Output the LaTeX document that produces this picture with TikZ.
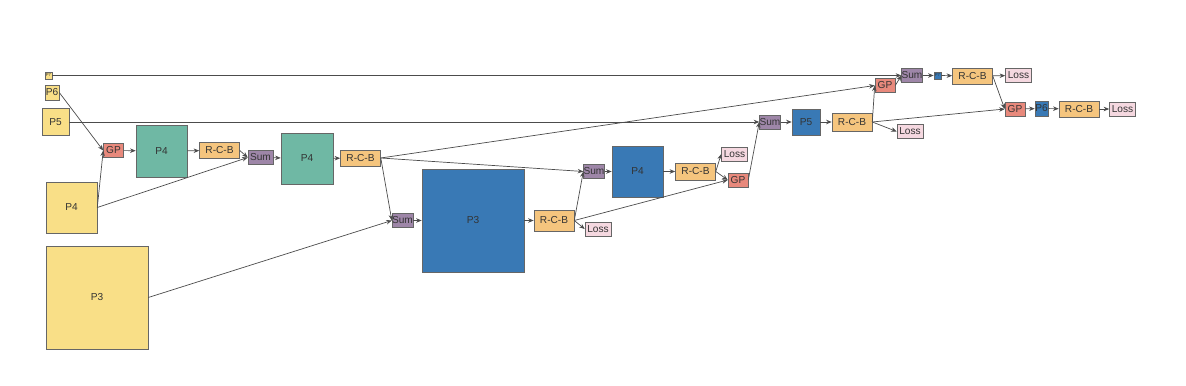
\documentclass[tikz,border=0pt]{standalone}
\usepackage{fontspec}
\setmainfont{Liberation Sans}
\usetikzlibrary{arrows.meta}

\definecolor{featyellow}{HTML}{F9DF87}
\definecolor{featgreen}{HTML}{6FB8A4}
\definecolor{featblue}{HTML}{3979B5}
\definecolor{rcborange}{HTML}{F5C57E}
\definecolor{sumpurple}{HTML}{9E86A8}
\definecolor{gpred}{HTML}{E8897C}
\definecolor{losspink}{HTML}{F5D8E0}

\begin{document}
\begin{tikzpicture}[x=0.025cm,y=-0.025cm,
    box/.style={draw=black!60, line width=0.4pt, inner sep=0pt, text=black!80,
      font=\fontsize{7.2}{8}\selectfont},
    sz/.style 2 args={minimum width=#1*0.025cm, minimum height=#2*0.025cm},
    yel/.style={box, fill=featyellow},
    grn/.style={box, fill=featgreen},
    blu/.style={box, fill=featblue},
    rcb/.style={box, fill=rcborange, sz={40}{16}},
    sumbox/.style={box, fill=sumpurple, sz={20}{14}},
    gpbox/.style={box, fill=gpred, sz={20}{14}},
    lossbox/.style={box, fill=losspink, sz={26}{14}},
    tiny/.style={font=\fontsize{3}{3}\selectfont},
    link/.style={draw=black!70, line width=0.5pt, -{Stealth[length=4pt,width=3.2pt]}}]
    \useasboundingbox (0,0) rectangle (1186,386);

    % input pyramid
    \node[yel, sz={7}{7}, tiny] (p7in) at (48.5,75.5) {P7};
    \node[yel, sz={14}{15}] (p6in) at (52,92.5) {P6};
    \node[yel, sz={27}{27}] (p5in) at (55.5,122) {P5};
    \node[yel, sz={51}{51}] (p4in) at (71.5,207.5) {P4};
    \node[yel, sz={102}{103}] (p3in) at (97,297.5) {P3};

    % top-down path
    \node[gpbox] (gp1) at (113.5,150.5) {GP};
    \node[grn, sz={51}{52}] (p4a) at (161.5,151) {P4};
    \node[rcb] (rcb1) at (219.5,150.5) {R-C-B};
    \node[sumbox, minimum width=25*0.025cm] (sum1) at (260.5,157.5) {Sum};
    \node[grn, sz={52}{51}] (p4b) at (307,158.5) {P4};
    \node[rcb] (rcb2) at (360.5,158) {R-C-B};
    \node[sumbox] (sum2) at (402.5,220.5) {Sum};
    \node[blu, sz={102}{103}] (p3out) at (473,220.5) {P3};
    \node[rcb, minimum height=21*0.025cm] (rcb3) at (554,220.5) {R-C-B};
    \node[lossbox] (loss3) at (598,229) {Loss};

    % bottom-up path
    \node[sumbox] (sum3) at (594,171.5) {Sum};
    \node[blu, sz={51}{51}] (p4out) at (637.5,171.5) {P4};
    \node[rcb, minimum height=17*0.025cm] (rcb4) at (695.5,171.5) {R-C-B};
    \node[lossbox] (loss4) at (734.5,154) {Loss};
    \node[gpbox] (gp4) at (738,180) {GP};
    \node[sumbox] (sum5) at (770,122) {Sum};
    \node[blu, sz={28}{26}] (p5out) at (806,122) {P5};
    \node[rcb, minimum height=18*0.025cm] (rcb5) at (852,122) {R-C-B};
    \node[lossbox] (loss5) at (910,131.5) {Loss};
    \node[gpbox] (gp5) at (885,85.5) {GP};
    \node[sumbox] (sum6) at (912,75.5) {Sum};
    \node[blu, sz={7}{7}, tiny] (p7out) at (937.5,75.5) {P7};
    \node[rcb] (rcb6) at (972.5,76) {R-C-B};
    \node[lossbox] (loss6) at (1018.5,75.5) {Loss};
    \node[gpbox] (gp7) at (1015,109) {GP};
    \node[blu, sz={13}{15}] (p6out) at (1041.5,108.5) {P6};
    \node[rcb] (rcb7) at (1079,109) {R-C-B};
    \node[lossbox] (loss7) at (1122.5,109) {Loss};

    \draw[link] (p7in.east) -- (sum6.west);
    \draw[link] (p6in.east) -- (gp1.west);
    \draw[link] (p4in.east) -- (gp1.west);
    \draw[link] (gp1) -- (p4a);
    \draw[link] (p4a) -- (rcb1);
    \draw[link] (rcb1.east) -- (sum1.west);
    \draw[link] (p4in.east) -- (sum1.west);
    \draw[link] (sum1) -- (p4b);
    \draw[link] (p4b) -- (rcb2);
    \draw[link] (rcb2.east) -- (gp5.west);
    \draw[link] (rcb2.east) -- (sum3.west);
    \draw[link] (rcb2.east) -- (sum2.west);
    \draw[link] (p3in.east) -- (sum2.west);
    \draw[link] (sum2) -- (p3out);
    \draw[link] (p3out) -- (rcb3);
    \draw[link] (rcb3.east) -- (loss3.west);
    \draw[link] (rcb3.east) -- (sum3.west);
    \draw[link] (rcb3.east) -- (gp4.west);
    \draw[link] (sum3) -- (p4out);
    \draw[link] (p4out) -- (rcb4);
    \draw[link] (rcb4.east) -- (loss4.west);
    \draw[link] (rcb4.east) -- (gp4.west);
    \draw[link] (gp4.east) -- (sum5.west);
    \draw[link] (p5in.east) -- (sum5.west);
    \draw[link] (sum5) -- (p5out);
    \draw[link] (p5out) -- (rcb5);
    \draw[link] (rcb5.east) -- (gp5.west);
    \draw[link] (rcb5.east) -- (loss5.west);
    \draw[link] (rcb5.east) -- (gp7.west);
    \draw[link] (gp5.east) -- (sum6.west);
    \draw[link] (sum6) -- (p7out);
    \draw[link] (p7out) -- (rcb6);
    \draw[link] (rcb6) -- (loss6);
    \draw[link] (rcb6.east) -- (gp7.west);
    \draw[link] (gp7) -- (p6out);
    \draw[link] (p6out) -- (rcb7);
    \draw[link] (rcb7) -- (loss7);
\end{tikzpicture}
\end{document}
